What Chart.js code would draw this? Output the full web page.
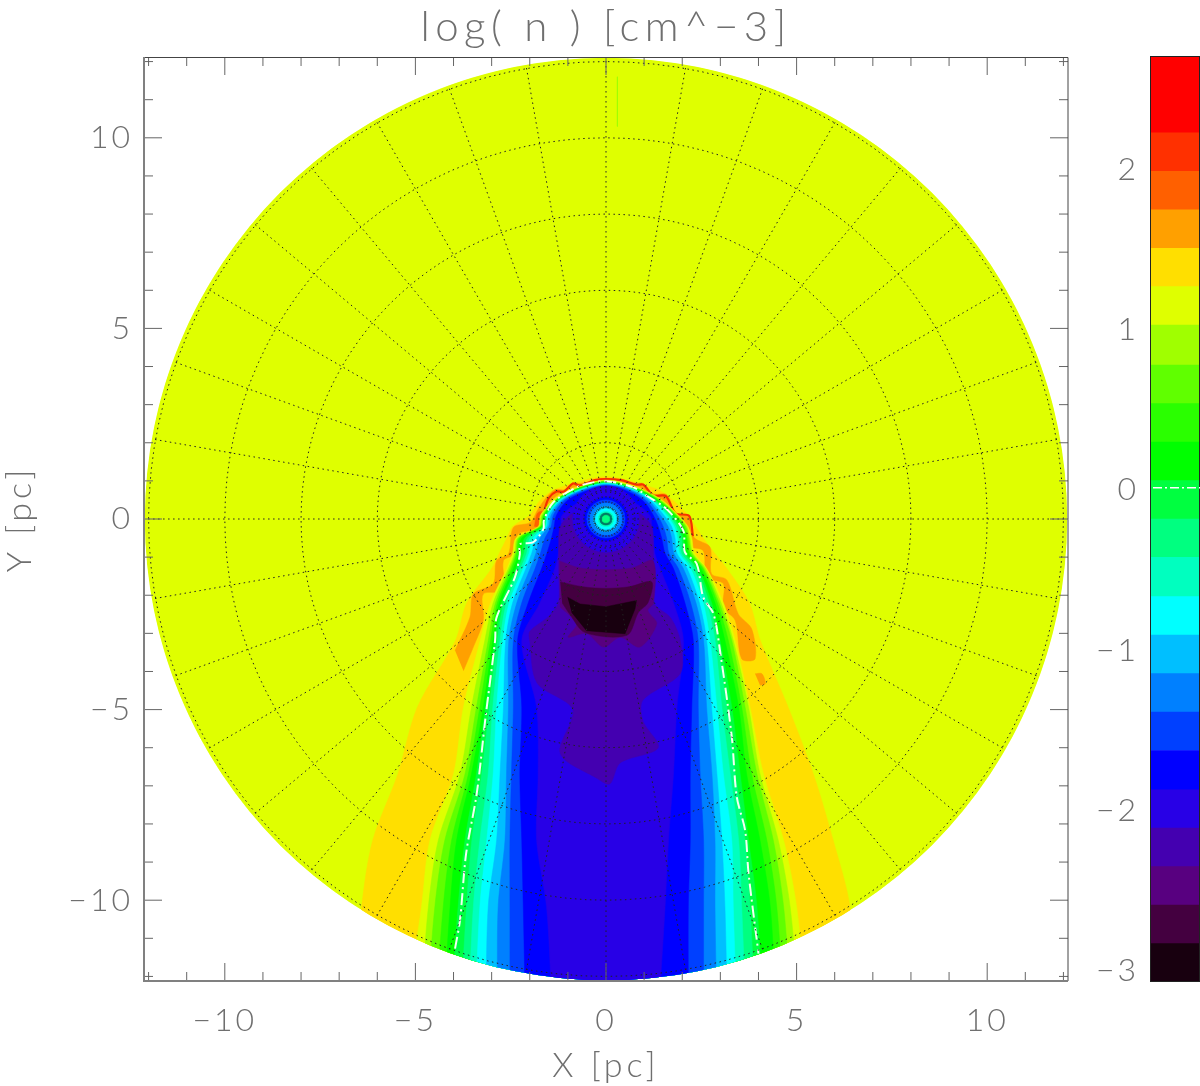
<!DOCTYPE html>
<html><head><meta charset="utf-8">
<script src="https://cdn.jsdelivr.net/npm/chart.js@4"></script>
<style>html,body{margin:0;padding:0;background:#fff}
#wrap{position:relative;width:1200px;height:1086px;overflow:hidden}
canvas{position:absolute;top:0;display:block}</style></head>
<body><div id="wrap"><canvas id="main" width="1200" height="1086" style="left:0"></canvas>
<canvas id="bar" width="140" height="1086" style="left:1060px"></canvas></div>
<script>
const titleText = 'log( n ) [cm^\u22123]';
const xTitle = 'X [pc]', yTitle = 'Y [pc]';
const axisLimit = 12.12, diskRadius = 12.1;
const labelledTicks = [-10, -5, 0, 5, 10];
const minorTicks = [-12,-11,-9,-8,-7,-6,-4,-3,-2,-1,1,2,3,4,6,7,8,9,11,12];
const barTicks = [-3, -2, -1, 0, 1, 2];
const barMin = -3.07, barMax = 2.71;
const barEdges = [-3.07,-2.83,-2.59,-2.35,-2.11,-1.87,-1.625,-1.385,-1.145,-0.905,-0.665,-0.42,-0.18,0.06,0.30,0.54,0.78,1.03,1.27,1.51,1.75,1.99,2.23,2.47,2.71];
const bandColors = ['#18000f','#440040','#580080','#4400b0','#2800e6','#0000ff','#0040ff','#0080ff','#00bfff','#00ffff','#00ffbf','#00ff80','#00ff40','#00ff00','#2aff00','#60ff00','#a0ff00','#dfff00','#ffdf00','#ffa000','#ff6000','#ff3000','#ff0000','#ff0000'];
const whiteLevel = 0.015;

// contour half-widths [pc] at these heights [pc]
const rowY = [-12.6,-10.17,-8.43,-6.69,-4.94,-3.19,-2.2,-1.3,-0.9,-0.5,-0.2,0.1,0.5,0.8];
const apex18=1.11, apex17=1.02;
const left18=[-6.6,-6.41,-6.12,-5.46,-4.95,-3.95,-3.65,-3.0,-2.8,-2.6,-2.45,-2.0,-1.72,-1.28];
const right18=[6.55,6.40,5.96,5.44,4.78,4.05,3.76,3.17,2.85,2.55,2.35,2.15,1.75,1.3];
const left17=[-5.2,-4.84,-4.62,-4.0,-3.74,-3.3,-3.03,-2.6,-2.45,-2.36,-1.78,-1.72,-1.37,-.8];
const right17=[5.25,5.0,4.66,4.13,3.78,3.39,3.08,2.64,2.32,2.25,2.15,1.9,1.47,.89];
const left16=[-4.85,-4.66,-4.40,-3.83,-3.53,-3.18,-2.96,-2.56,-2.4,-2.32,-1.75,-1.69,-1.34,-.77];
const right16=[5.05,4.83,4.52,4.04,3.74,3.34,3.02,2.61,2.28,2.2,2.12,1.87,1.43,.85];
const left15=[-4.68,-4.49,-4.23,-3.70,-3.40,-3.09,-2.90,-2.52,-2.37,-2.29,-1.73,-1.66,-1.32,-.75];
const right15=[4.85,4.66,4.39,3.96,3.65,3.30,2.97,2.57,2.25,2.17,2.09,1.85,1.40,.82];
const left14=[-4.45,-4.27,-4.05,-3.61,-3.31,-3.03,-2.85,-2.48,-2.34,-2.26,-1.71,-1.64,-1.30,-.73];
const right14=[4.65,4.48,4.22,3.82,3.56,3.21,2.92,2.54,2.21,2.13,2.05,1.83,1.37,.79];
const left13=[-4.25,-4.09,-3.92,-3.53,-3.22,-2.97,-2.80,-2.43,-2.29,-2.21,-1.69,-1.62,-1.29,-.71];
const right13=[4.45,4.31,4.04,3.69,3.48,3.12,2.86,2.49,2.17,2.10,2.01,1.79,1.34,.76];
const left12=[-4.05,-3.88,-3.70,-3.40,-3.16,-2.91,-2.74,-2.36,-2.22,-2.13,-1.66,-1.59,-1.27,-.68];
const right12=[4.1,3.96,3.74,3.52,3.30,2.99,2.77,2.42,2.1,2.03,1.95,1.74,1.30,.72];
const left11=[-3.8,-3.66,-3.52,-3.26,-3.06,-2.85,-2.68,-2.30,-2.15,-2.06,-1.63,-1.57,-1.25,-.64];
const right11=[3.9,3.78,3.65,3.39,3.17,2.92,2.71,2.36,2.05,1.98,1.9,1.70,1.27,.69];
const left10=[-3.6,-3.48,-3.31,-3.09,-2.97,-2.78,-2.61,-2.24,-2.08,-1.99,-1.6,-1.55,-1.22,-.61];
const right10=[3.66,3.56,3.48,3.26,3.04,2.86,2.64,2.29,1.98,1.92,1.84,1.64,1.23,.66];
const left9=[-3.42,-3.31,-3.13,-2.96,-2.87,-2.71,-2.54,-2.17,-2.02,-1.91,-1.58,-1.53,-1.20,-.58];
const right9=[3.42,3.34,3.30,3.08,2.91,2.73,2.55,2.22,1.93,1.87,1.79,1.59,1.20,.63];
const left8=[-3.15,-3.09,-2.87,-2.78,-2.69,-2.63,-2.45,-2.10,-1.95,-1.82,-1.55,-1.50,-1.17,-.54];
const right8=[3.18,3.12,3.04,2.91,2.77,2.64,2.45,2.13,1.86,1.81,1.72,1.52,1.15,.60];
const left7=[-2.85,-2.83,-2.65,-2.61,-2.56,-2.55,-2.34,-1.99,-1.84,-1.73,-1.5,-1.44,-1.13,-.50];
const right7=[2.9,2.86,2.86,2.78,2.64,2.56,2.36,2.03,1.78,1.72,1.63,1.43,1.10,.55];
const left6=[-2.52,-2.52,-2.52,-2.48,-2.43,-2.43,-2.21,-1.86,-1.72,-1.60,-1.44,-1.38,-1.08,-.42];
const right6=[2.56,2.56,2.56,2.47,2.42,2.42,2.22,1.90,1.65,1.59,1.5,1.35,1.03,.48];
const left5=[-2.12,-2.17,-2.21,-2.26,-2.21,-2.32,-2.04,-1.69,-1.55,-1.43,-1.36,-1.30,-1.0,-.33];
const right5=[2.16,2.16,2.21,2.21,2.25,2.29,2.07,1.77,1.55,1.46,1.37,1.24,.95,.38];
const left4=[-1.42,-1.56,-1.82,-1.78,-1.82,-2.21,-1.73,-1.34,-1.25,-1.21,-1.18,-1.15,-.6,null];
const right4=[1.4,1.55,1.64,1.77,1.86,2.03,1.77,1.42,1.28,1.24,1.2,1.15,.62,null];
const apexByBand = {16:1.0,15:.99,14:.98,13:.97,12:.96,11:.95,10:.94,9:.93,8:.92,7:.90,6:.88,5:.85,4:.65};

// outlines as x list / y list
const orangeX=[-3.96,-3.57,-3.48,-2.96,-2.87,-2.56,-2.43,-1.99,-1.78,-1.56,-1.34,-1.08,-.86,-.68,0,.80,.98,1.24,1.59,1.85,2.2,2.31,2.73,2.77,3.17,3.47,3.82,3.91,3.56,3.39,3.08,3.08,2.64,2.55,2.16,2.03,1.77,1.59,1.24,.89,0,-.86,-1.29,-1.56,-1.64,-2.3,-2.39,-2.69,-2.69,-3.22,-3.22,-3.48,-3.74];
const orangeY=[-3.45,-2.58,-1.97,-1.70,-1.09,-.92,-.22,-.09,.26,.57,.77,.77,.96,.93,1.07,.94,.93,.66,.64,.15,.09,-.48,-.74,-1.44,-1.6,-2.49,-2.88,-3.67,-3.67,-2.66,-2.32,-1.7,-1.53,-.83,-.7,-.04,.04,.39,.52,.83,1.02,.83,.61,.31,-.22,-.39,-.92,-1.09,-1.88,-1.97,-2.66,-3.36,-3.98];
const orangeDotX=[3.91,4.09,4.18,4.04];
const orangeDotY=[-4.06,-4.06,-4.32,-4.36];
const redBlobX=[-1.88,-1.8,-1.65,-1.62];
const redBlobY=[-.2,.15,.2,-.25];
const redArcX=[-1.65,-1.62,-1.5,-1.3,-1.1,-.87,-.68,-.3,0,.4,.8,.98,1.24,1.57,1.82,2.18,2.28];
const redArcY=[-.1,.2,.55,.72,.72,.93,.88,1.02,1.05,1.02,.9,.9,.62,.6,.15,.08,-.45];
const band3X=[-.55,-.95,-1.2,-1.24,-1.24,-1.25,-1.5,-2.0,-2.0,-1.81,-.87,-1.2,-.24,.1,.37,1.37,.97,.97,1.95,1.95,1.7,1.25,1.24,1.24,1.2,.95,.55];
const band3Y=[.3,.1,-.2,-.6,-1.4,-2.2,-2.55,-2.95,-3.2,-4.3,-5.0,-6.15,-6.8,-6.95,-6.4,-6.0,-5.3,-4.75,-4.05,-3.2,-2.6,-2.2,-1.4,-.6,-.2,.1,.3];
const band2X=[-1.22,-.7,0,.7,1.24,1.25,1.1,1.33,.89,.37,-.07,-.51,-.99,-.77,-1.21];
const band2Y=[-1.1,-1.28,-1.33,-1.28,-1.1,-2.2,-2.4,-2.75,-3.36,-3.1,-3.36,-3.0,-3.1,-2.75,-2.3];
const band1X=[-1.2,-.6,0,.6,1.2,1.1,.85,.55,-.55,-.95,-1.15];
const band1Y=[-1.65,-1.78,-1.82,-1.78,-1.65,-2.2,-2.45,-3.05,-2.98,-2.5,-2.2];
const band0X=[-1.01,-.68,0,.80,.76,.50,-.51,-.90];
const band0Y=[-2.05,-2.23,-2.30,-2.14,-2.36,-3.01,-2.93,-2.45];
const ringRadii=[.87,.57,.5,.42,.33,.27,.2,.16,.1];
const ringBands=[4,5,6,7,8,9,10,'#007a66',11];
const whiteX=[-3.96,-3.83,-3.67,-3.39,-3.16,-2.91,-2.87,-2.39,-2.26,-2.26,-1.91,-1.64,-1.63,-1.38,-.68,0,.72,1.07,1.59,2.03,2.07,2.38,2.55,2.82,2.99,3.3,3.43,3.65,3.74,4.0];
const whiteY=[-11.27,-10.52,-8.78,-7.2,-5.2,-3.19,-2.58,-1.53,-.92,-.66,-.61,-.26,-.04,.44,.87,.99,.83,.61,.26,-.31,-.87,-1.18,-2.05,-2.49,-3.45,-5.72,-7.29,-8.17,-9.3,-11.4];
const streakX=[.3,.3];
const streakY=[11.6,10.3];
const gridRadii=[.3,.76,2,4,6,8,10,12];
const gridAngles=[0,10,20,30,40,50,60,70,80,90,100,110,120,130,140,150,160,170,180,190,200,210,220,230,240,250,260,270,280,290,300,310,320,330,340,350];

function zipXY(xs,ys){return xs.map((x,i)=>({x,y:ys[i]}));}
function contour(left,right,apex){
  const pts=[];
  rowY.forEach((y,i)=>{if(left[i]!==null)pts.push({x:left[i],y});});
  pts.push({x:0,y:apex});
  for(let i=rowY.length-1;i>=0;i--){if(right[i]!==null)pts.push({x:right[i],y:rowY[i]});}
  return pts;
}
function circle(r){const p=[];for(let a=0;a<=360;a+=3){const t=a*Math.PI/180;p.push({x:r*Math.cos(t),y:r*Math.sin(t)});}return p;}
const painted=[];
const SMOOTH=0.3;
function shape(data,color,tension){painted.push({data,showLine:true,fill:'shape',backgroundColor:color,borderColor:color,borderWidth:0.5,pointRadius:0,tension:tension===undefined?SMOOTH:tension});}
function stroke(data,color,width,dash,tension){painted.push({data,showLine:true,fill:false,borderColor:color,borderWidth:width,borderDash:dash||[],pointRadius:0,tension:tension||0,spanGaps:true});}

shape(circle(diskRadius),bandColors[17],0);
stroke(zipXY(streakX,streakY),bandColors[16],1);
shape(contour(left18,right18,apex18),bandColors[18]);
shape(zipXY(orangeX,orangeY),bandColors[19]);
shape(zipXY(orangeDotX,orangeDotY),bandColors[19]);
shape(zipXY(redBlobX,redBlobY),bandColors[20]);
stroke(zipXY(redArcX,redArcY),'#f63000',2.2,[],SMOOTH);
shape(contour(left17,right17,apex17),bandColors[17]);
shape(contour(left16,right16,apexByBand[16]),bandColors[16]);
shape(contour(left15,right15,apexByBand[15]),bandColors[15]);
shape(contour(left14,right14,apexByBand[14]),bandColors[14]);
shape(contour(left13,right13,apexByBand[13]),bandColors[13]);
shape(contour(left12,right12,apexByBand[12]),bandColors[12]);
shape(contour(left11,right11,apexByBand[11]),bandColors[11]);
shape(contour(left10,right10,apexByBand[10]),bandColors[10]);
shape(contour(left9,right9,apexByBand[9]),bandColors[9]);
shape(contour(left8,right8,apexByBand[8]),bandColors[8]);
shape(contour(left7,right7,apexByBand[7]),bandColors[7]);
shape(contour(left6,right6,apexByBand[6]),bandColors[6]);
shape(contour(left5,right5,apexByBand[5]),bandColors[5]);
shape(contour(left4,right4,apexByBand[4]),bandColors[4]);
shape(zipXY(band3X,band3Y),bandColors[3]);
shape(zipXY(band2X,band2Y),bandColors[2]);
shape(zipXY(band1X,band1Y),bandColors[1]);
shape(zipXY(band0X,band0Y),bandColors[0],0);
ringRadii.forEach((r,i)=>{const b=ringBands[i];shape(circle(r),typeof b==='number'?bandColors[b]:b,0);});
stroke(zipXY(whiteX,whiteY),'#f4fff4',2,[12,4,2,4],SMOOTH);
gridRadii.forEach(r=>stroke(circle(r),'#222222',1,[1.5,3.5]));
gridAngles.forEach(a=>{const t=a*Math.PI/180;stroke([{x:.3*Math.cos(t),y:.3*Math.sin(t)},{x:diskRadius*Math.cos(t),y:diskRadius*Math.sin(t)}],'#222222',1,[1.5,3.5]);});
painted.forEach((d,i)=>{d.order=-i;});

const FONT='Lato';
const GREY='#6f6f6f';
function tickFont(size){return {family:FONT,size,weight:'300'};}
function spacingFor(t){if(t===titleText)return 5.5;if(t===xTitle||t===yTitle)return 4;return 3;}
const spaced={id:'spaced',beforeDraw(c){const ctx=c.ctx;if(ctx.__spaced)return;ctx.__spaced=true;
  const orig=ctx.fillText;ctx.fillText=function(t,x,y,m){ctx.letterSpacing=spacingFor(t)+'px';
    if(m===undefined)orig.call(ctx,t,x,y);else orig.call(ctx,t,x,y,m);ctx.letterSpacing='0px';};}};

const frame={id:'frame',
  beforeDatasetsDraw(c){const {x,y}=c.scales,ctx=c.ctx;ctx.save();ctx.beginPath();
    ctx.arc(x.getPixelForValue(0),y.getPixelForValue(0),x.getPixelForValue(diskRadius)-x.getPixelForValue(0),0,Math.PI*2);ctx.clip();},
  afterDatasetsDraw(c){c.ctx.restore();
    const {x,y}=c.scales,ctx=c.ctx,a=c.chartArea;ctx.save();
    const tick=(v,len)=>{const px=x.getPixelForValue(v),py=y.getPixelForValue(v);
      ctx.beginPath();
      ctx.moveTo(px,a.bottom);ctx.lineTo(px,a.bottom-len);ctx.moveTo(px,a.top);ctx.lineTo(px,a.top+len);
      ctx.moveTo(a.left,py);ctx.lineTo(a.left+len,py);ctx.moveTo(a.right,py);ctx.lineTo(a.right-len,py);ctx.stroke();};
    ctx.strokeStyle='#666';ctx.lineWidth=1;
    labelledTicks.forEach(v=>tick(v,18));minorTicks.forEach(v=>tick(v,9));
    ctx.strokeStyle='#444';ctx.beginPath();ctx.moveTo(a.left,a.top+.5);ctx.lineTo(a.right,a.top+.5);ctx.lineTo(a.right,a.bottom);ctx.stroke();
    ctx.strokeStyle='#808080';ctx.lineWidth=2;ctx.beginPath();ctx.moveTo(a.left,a.top);ctx.lineTo(a.left,a.bottom);ctx.lineTo(a.right,a.bottom);ctx.stroke();
    ctx.restore();}
};
const setTicks=s=>{s.ticks=labelledTicks.map(value=>({value}));};
const fmt=v=>String(v).replace('-','\u2212');
new Chart(document.getElementById('main'),{type:'scatter',
  data:{datasets:painted},
  plugins:[spaced,frame],
  options:{responsive:false,animation:false,events:[],
    layout:{padding:{left:0,right:132,top:0,bottom:0}},
    plugins:{legend:{display:false},tooltip:{enabled:false},
      title:{display:true,text:titleText,fullSize:false,color:GREY,font:tickFont(42),padding:{top:2,bottom:4.6}}},
    scales:{
      x:{type:'linear',min:-axisLimit,max:axisLimit,position:'bottom',afterBuildTicks:setTicks,afterFit(s){s.height=105;},
        grid:{display:false,drawTicks:false},border:{display:false},
        ticks:{color:GREY,font:tickFont(32),padding:20,maxRotation:0,autoSkip:false,callback:fmt},
        title:{display:true,text:xTitle,color:GREY,font:tickFont(34),padding:{top:0,bottom:0}}},
      y:{type:'linear',min:-axisLimit,max:axisLimit,position:'left',afterBuildTicks:setTicks,afterFit(s){s.width=144;},
        grid:{display:false,drawTicks:false},border:{display:false},
        ticks:{color:GREY,font:tickFont(32),padding:11,autoSkip:false,callback:fmt},
        title:{display:true,text:yTitle,color:GREY,font:tickFont(34),padding:{top:0,bottom:0}}}
    }}
});

const barFrame={id:'barFrame',afterDatasetsDraw(c){const {y}=c.scales,ctx=c.ctx,a=c.chartArea;ctx.save();
  ctx.strokeStyle='#222';ctx.lineWidth=1;ctx.strokeRect(a.left+.5,a.top+.5,a.right-a.left-1,a.bottom-a.top-1);
  const py=y.getPixelForValue(whiteLevel);ctx.strokeStyle='#fff';ctx.lineWidth=1.5;ctx.setLineDash([9,3,2,3]);
  ctx.beginPath();ctx.moveTo(a.left+3,py);ctx.lineTo(a.right,py);ctx.stroke();ctx.restore();}};
new Chart(document.getElementById('bar'),{type:'bar',
  data:{labels:[''],datasets:bandColors.map((c,i)=>({data:[[barEdges[i],barEdges[i+1]]],backgroundColor:c,borderWidth:0,barPercentage:1,categoryPercentage:1}))},
  plugins:[spaced,barFrame],
  options:{responsive:false,animation:false,events:[],
    layout:{padding:{left:0,right:0,top:56,bottom:104}},
    plugins:{legend:{display:false},tooltip:{enabled:false},title:{display:false}},
    scales:{
      x:{display:false,stacked:true},
      y:{min:barMin,max:barMax,afterBuildTicks(s){s.ticks=barTicks.map(value=>({value}));},afterFit(s){s.width=90;},
        grid:{display:false,drawTicks:false},border:{display:false},
        ticks:{color:GREY,font:tickFont(32),padding:11,autoSkip:false,callback:fmt}}
    }}
});
</script></body></html>
